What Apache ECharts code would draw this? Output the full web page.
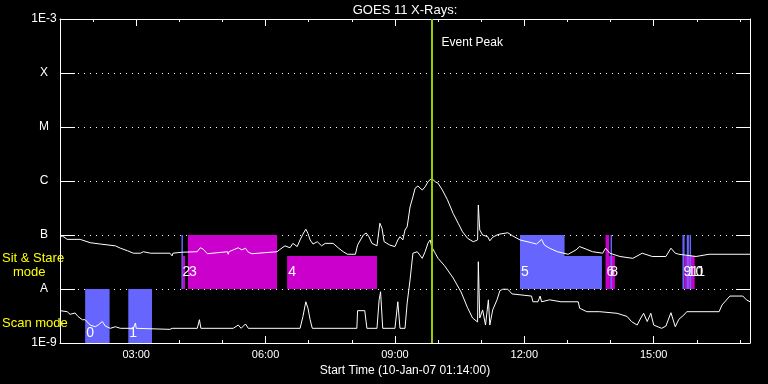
<!DOCTYPE html>
<html><head><meta charset="utf-8">
<script src="https://cdn.jsdelivr.net/npm/echarts@6/dist/echarts.min.js"></script>
<style>html,body{margin:0;padding:0;background:#000;}#c{width:768px;height:384px;}</style>
</head><body><div id="c"></div>
<script>
// ---- data (time in minutes since 00:00 on 10-Jan-07, flux in W/m^2) ----
const startMinute = 74;   // 01:14
const endMinute = 1034;   // 17:14
const peakMinute = 591;   // 09:51 event peak
const xTickMinutes = [180, 360, 540, 720, 900];
const xTickLabels = ['03:00', '06:00', '09:00', '12:00', '15:00'];
const hourMinutes = [120,180,240,300,360,420,480,540,600,660,720,780,840,900,960,1020];
const yTickLabels = ['1E-9', 'A', 'B', 'C', 'M', 'X', '1E-3'];

const longChannel = [[74,9.3e-8],[77,9.6e-8],[81,8.9e-8],[84,8.3e-8],[102,8.3e-8],[116,7.2e-8],[130,6.8e-8],[151,6.3e-8],[158,5.7e-8],[168,5.1e-8],[176,4.6e-8],[186,4.6e-8],[190,4.9e-8],[200,4.6e-8],[227,4.6e-8],[230,4.1e-8],[231,4.6e-8],[244,4.8e-8],[265,4.9e-8],[269,5.8e-8],[273,5.5e-8],[279,4.5e-8],[280,4.9e-8],[307,4.9e-8],[308,4.4e-8],[309,4.9e-8],[322,5.8e-8],[327,5.3e-8],[332,5.7e-8],[336,4.8e-8],[341,4.5e-8],[343,4.9e-8],[376,4.9e-8],[380,5.4e-8],[387,6.3e-8],[394,5.8e-8],[398,7.0e-8],[404,6.1e-8],[408,8.1e-8],[412,1.04e-7],[416,1.28e-7],[419,1.07e-7],[422,8.1e-8],[426,6.8e-8],[432,7.5e-8],[438,6.3e-8],[443,7.0e-8],[454,7.0e-8],[461,5.8e-8],[468,4.9e-8],[474,4.4e-8],[485,4.4e-8],[488,6.5e-8],[496,1.0e-7],[500,1.09e-7],[504,9.2e-8],[508,7.0e-8],[515,6.3e-8],[519,1.65e-7],[522,1.33e-7],[525,7.5e-8],[533,6.5e-8],[540,6.1e-8],[544,8.1e-8],[547,9.3e-8],[551,8.1e-8],[554,1.24e-7],[557,1.42e-7],[561,3.3e-7],[565,5.1e-7],[568,7.3e-7],[572,8.1e-7],[578,6.8e-7],[582,7.8e-7],[586,9.7e-7],[591,1.12e-6],[596,9.7e-7],[600,9.1e-7],[606,6.8e-7],[613,4.5e-7],[621,2.5e-7],[628,1.65e-7],[634,1.15e-7],[641,8.7e-8],[649,7.5e-8],[655,8.1e-8],[656,3.6e-7],[658,1.24e-7],[662,1.0e-7],[669,9.3e-8],[672,7.8e-8],[676,9.1e-8],[682,1.0e-7],[686,1.04e-7],[697,1.1e-7],[704,9.6e-8],[714,8.1e-8],[730,7.2e-8],[737,6.8e-8],[744,8.3e-8],[748,6.5e-8],[755,5.7e-8],[766,4.9e-8],[781,4.4e-8],[792,5.3e-8],[797,6.1e-8],[807,5.4e-8],[815,4.9e-8],[829,4.6e-8],[833,5.7e-8],[839,4.6e-8],[853,4.0e-8],[871,3.7e-8],[884,4.6e-8],[898,4.0e-8],[917,4.0e-8],[924,5.7e-8],[930,4.6e-8],[935,4.4e-8],[959,4.0e-8],[977,4.4e-8],[1034,4.4e-8]];

const shortChannel = [[74,3.97e-9],[84,3.8e-9],[88,3.4e-9],[95,3.6e-9],[99,3.1e-9],[105,2.7e-9],[109,2.7e-9],[116,2.15e-9],[123,2.0e-9],[127,2.15e-9],[133,2.5e-9],[137,2.06e-9],[144,1.87e-9],[151,2.0e-9],[158,1.87e-9],[176,1.87e-9],[179,2.35e-9],[180,1.87e-9],[227,1.79e-9],[230,1.87e-9],[265,1.87e-9],[268,2.7e-9],[270,1.87e-9],[315,1.87e-9],[322,2.15e-9],[326,1.87e-9],[332,2.25e-9],[336,1.87e-9],[408,1.87e-9],[412,3.1e-9],[416,5.8e-9],[419,4.4e-9],[422,2.7e-9],[425,1.87e-9],[487,1.87e-9],[488,3.97e-9],[498,3.97e-9],[501,1.87e-9],[515,1.87e-9],[518,6.3e-9],[520,8.9e-9],[523,1.87e-9],[540,1.87e-9],[544,5.8e-9],[547,1.87e-9],[554,1.87e-9],[557,5.5e-9],[561,1.47e-8],[565,4.6e-8],[571,4.9e-8],[578,3.7e-8],[582,4.9e-8],[586,7.1e-8],[589,8.1e-8],[591,6.1e-8],[596,4.6e-8],[600,3.7e-8],[609,2.7e-8],[621,1.6e-8],[632,8.8e-9],[641,4.5e-9],[648,2.9e-9],[655,2.45e-9],[656,3.2e-8],[658,2.9e-9],[662,4.1e-9],[666,2.15e-9],[670,6.3e-9],[672,2.15e-9],[676,4.1e-9],[682,6.3e-9],[686,9.3e-9],[690,9.9e-9],[697,9.9e-9],[703,8.1e-9],[730,7.4e-9],[732,5.8e-9],[739,5.8e-9],[742,7.4e-9],[744,5.8e-9],[755,6.3e-9],[771,5.8e-9],[795,5.8e-9],[797,4.4e-9],[807,3.8e-9],[825,3.8e-9],[849,3.55e-9],[863,3.1e-9],[869,2.5e-9],[877,2.15e-9],[882,2.9e-9],[886,3.55e-9],[891,2.5e-9],[896,3.55e-9],[900,2.15e-9],[911,1.87e-9],[917,2.06e-9],[924,3.64e-9],[930,2.0e-9],[935,2.75e-9],[942,3.3e-9],[946,3.8e-9],[991,3.8e-9],[995,5.05e-9],[1006,7.4e-9],[1024,7.4e-9],[1029,6.3e-9],[1034,5.8e-9]];

// observation intervals
const obsStart = [109, 169, 243, 245, 252, 390, 714, 714, 833, 838, 840, 940, 943, 946, 950];
const obsEnd   = [143, 202, 245, 248, 376, 515, 828, 776, 838, 846, 842, 943, 957, 949, 952];
const obsLow   = [1e-9, 1e-9, 1e-8, 1e-8, 1e-8, 1e-8, 1e-8, 1e-8, 1e-8, 1e-8, 1e-8, 1e-8, 1e-8, 1e-8, 1e-8];
const obsHigh  = [1e-8, 1e-8, 1e-7, 4.1e-8, 1e-7, 4.1e-8, 4.1e-8, 1e-7, 1e-7, 4.1e-8, 1e-7, 1e-7, 4.1e-8, 1e-7, 1e-7];
const obsGroup = [0, 0, 0, 1, 1, 1, 0, 0, 1, 1, 0, 0, 1, 0, 0];
const obsMode  = ['scan','scan','sit','sit','sit','sit','sit','sit','sit','sit','sit','sit','sit','sit','sit'];
const obsLabel = ['0', '1', '2', '', '3', '4', '', '5', '6', '8', '', '9', '', '10', '11'];

// ---- chart ----
const FONT = '"Liberation Sans", Arial, sans-serif';
const groupColors = ['#6666ff', '#cc00cc'];
const white = '#ffffff';
const fmtMin = v => { const h = Math.floor(v / 60), m = Math.round(v % 60); return String(h).padStart(2,'0') + ':' + String(m).padStart(2,'0'); };

const chart = echarts.init(document.getElementById('c'), null, {renderer: 'canvas'});

const obsData = obsStart.map((s, i) => [s, obsEnd[i], obsLow[i], obsHigh[i], obsGroup[i]]);

const baseX = {type: 'value', min: startMinute, max: endMinute, splitLine: {show: false}, axisLabel: {show: false}};

const option = {
  backgroundColor: '#000',
  animation: false,
  grid: {left: 60, right: 18, top: 19, bottom: 41, show: false},
  xAxis: [
    Object.assign({}, baseX, {
      position: 'bottom',
      axisLine: {show: true, lineStyle: {color: white, width: 1}},
      axisTick: {show: true, inside: true, length: 3, customValues: hourMinutes, lineStyle: {color: white}},
      axisLabel: {show: true, customValues: xTickMinutes, formatter: v => { const k = xTickMinutes.indexOf(v); return k >= 0 ? xTickLabels[k] : fmtMin(v); }, color: white, fontFamily: FONT, fontSize: 11, margin: 6},
      name: 'Start Time (10-Jan-07 01:14:00)', nameLocation: 'middle', nameGap: 19,
      nameTextStyle: {color: white, fontFamily: FONT, fontSize: 12}
    }),
    Object.assign({}, baseX, {
      position: 'bottom', axisLine: {show: false},
      axisTick: {show: true, inside: true, length: 7, customValues: xTickMinutes, lineStyle: {color: white}}
    }),
    Object.assign({}, baseX, {
      position: 'top',
      axisLine: {show: true, lineStyle: {color: white, width: 1}},
      axisTick: {show: true, inside: true, length: 3, customValues: hourMinutes, lineStyle: {color: white}}
    }),
    Object.assign({}, baseX, {
      position: 'top', axisLine: {show: false},
      axisTick: {show: true, inside: true, length: 7, customValues: xTickMinutes, lineStyle: {color: white}}
    })
  ],
  yAxis: [
    {type: 'log', logBase: 10, min: 1e-9, max: 1e-3, position: 'left',
     axisLine: {show: true, lineStyle: {color: white, width: 1}},
     axisTick: {show: true, inside: true, length: 15, lineStyle: {color: white}},
     axisLabel: {color: white, fontFamily: FONT, fontSize: 12, align: 'center', margin: 16,
       formatter: v => yTickLabels[Math.round(Math.log10(v)) + 9]},
     splitLine: {show: true, lineStyle: {color: white, width: 1, type: [1, 5]}}
    },
    {type: 'log', logBase: 10, min: 1e-9, max: 1e-3, position: 'right',
     axisLine: {show: true, lineStyle: {color: white, width: 1}},
     axisTick: {show: true, inside: true, length: 14, lineStyle: {color: white}},
     axisLabel: {show: false}, splitLine: {show: false}
    }
  ],
  series: [
    {
      type: 'custom', name: 'observations', xAxisIndex: 0, yAxisIndex: 0, z: 2,
      encode: {x: [0, 1], y: [2, 3]},
      data: obsData,
      renderItem: (params, api) => {
        const i = params.dataIndex;
        const a = api.coord([api.value(0), api.value(3)]);
        const b = api.coord([api.value(1), api.value(2)]);
        const children = [{type: 'rect', shape: {x: a[0], y: a[1], width: b[0] - a[0], height: b[1] - a[1]},
          style: {fill: groupColors[api.value(4)]}}];
        if (obsLabel[i]) {
          children.push({type: 'text', x: a[0] + 1, y: b[1] - (obsMode[i] === 'scan' ? 10 : 17),
            style: {text: obsLabel[i], fill: white, font: '14px ' + FONT, verticalAlign: 'middle', align: 'left'}, z2: 5});
        }
        return {type: 'group', children};
      }
    },
    {
      type: 'line', name: 'long', data: longChannel, xAxisIndex: 0, yAxisIndex: 0, z: 3,
      showSymbol: false, symbol: 'none', lineStyle: {color: white, width: 1}
    },
    {
      type: 'line', name: 'short', data: shortChannel, xAxisIndex: 0, yAxisIndex: 0, z: 3,
      showSymbol: false, symbol: 'none', lineStyle: {color: white, width: 1},
      markLine: {silent: true, symbol: 'none', animation: false, label: {show: false},
        lineStyle: {color: '#99cc00', width: 2, type: 'solid'},
        data: [{xAxis: peakMinute}]}
    }
  ],
  graphic: [
    {type: 'text', x: 405, y: 10, style: {text: 'GOES 11 X-Rays:', fill: white, font: '13px ' + FONT, align: 'center', verticalAlign: 'middle'}},
    {type: 'text', x: 2, y: 258, style: {text: 'Sit & Stare', fill: '#ffff00', font: '13px ' + FONT, verticalAlign: 'middle'}},
    {type: 'text', x: 13, y: 272, style: {text: 'mode', fill: '#ffff00', font: '13px ' + FONT, verticalAlign: 'middle'}},
    {type: 'text', x: 2, y: 323, style: {text: 'Scan mode', fill: '#ffff00', font: '13px ' + FONT, verticalAlign: 'middle'}}
  ]
};
chart.setOption(option);
const peakPx = chart.convertToPixel({xAxisIndex: 0}, peakMinute);
chart.setOption({graphic: option.graphic.concat([
  {type: 'text', x: peakPx + 10, y: 43, style: {text: 'Event Peak', fill: white, font: '12px ' + FONT, verticalAlign: 'middle'}}
])});
</script></body></html>
